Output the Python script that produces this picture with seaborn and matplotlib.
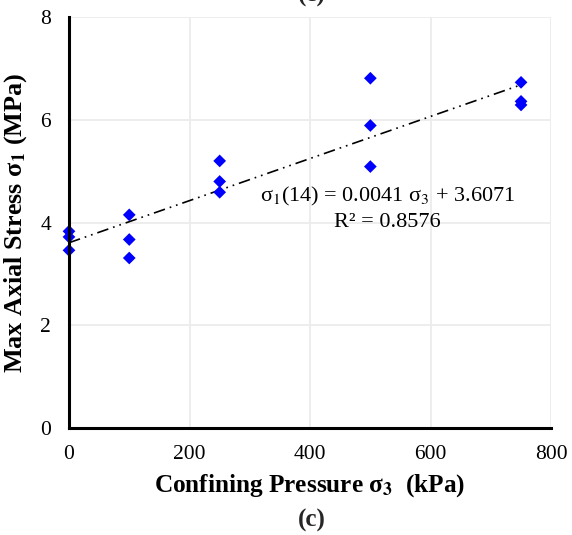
import numpy as np
import pandas as pd
import seaborn as sns
import matplotlib.pyplot as plt

# data
confining = [0, 0, 0, 100, 100, 100, 250, 250, 250, 500, 500, 500, 750, 750, 750]
max_stress = [3.83, 3.72, 3.46, 4.15, 3.67, 3.31, 5.20, 4.80, 4.59, 6.81, 5.89, 5.09, 6.73, 6.36, 6.29]
slope = 0.0041
intercept = 3.6071
r_squared = 0.8576
trend_x = [0, 750]
x_ticks = [0, 200, 400, 600, 800]
y_ticks = [0, 2, 4, 6, 8]

sns.set_theme(style="whitegrid")
plt.rcParams['font.family'] = ['Liberation Serif', 'DejaVu Serif']
plt.rcParams['mathtext.fontset'] = 'stix'

df = pd.DataFrame({'sigma3': confining, 'sigma1': max_stress})
trend = pd.DataFrame({'x': trend_x, 'y': [slope * v + intercept for v in trend_x]})

fig = plt.figure(figsize=(5.72, 5.35), dpi=100)
ax = fig.add_axes([0.1206, 0.2, 0.843, 0.768])

ax.plot(trend['x'], trend['y'], color='black', lw=1.2,
        linestyle=(0, (7, 3, 1, 3, 1, 3)), zorder=2)
sns.scatterplot(data=df, x='sigma3', y='sigma1', ax=ax, marker='D', s=42,
                color='#0000ff', edgecolor='none', zorder=3, clip_on=False)

ax.set_xlim(0, 800)
ax.set_ylim(0, 8)
ax.set_xticks(x_ticks)
ax.set_yticks(y_ticks)
ax.tick_params(axis='both', labelsize=15.5, length=0, colors='black')
ax.tick_params(axis='x', pad=12)
ax.tick_params(axis='y', pad=13)
ax.grid(True, color='#ececec', lw=1.3)
for side in ['top', 'right']:
    ax.spines[side].set_visible(False)
for side in ['left', 'bottom']:
    ax.spines[side].set_color('black')
    ax.spines[side].set_linewidth(2.2)
    ax.spines[side].set_zorder(4)

ax.set_xlabel(r'Confining Pressure σ$_\mathbf{3}$  (kPa)', fontsize=18.2,
              fontweight='bold', color='black', labelpad=6)
ax.set_ylabel(r'Max Axial Stress σ$_\mathbf{1}$ (MPa)', fontsize=18.8,
              fontweight='bold', color='black', labelpad=8)

ax.text(528, 4.50, r'σ$_1$(14) = %.4f σ$_3$ + %.4f' % (slope, intercept),
        fontsize=16, ha='center', va='center', color='black')
ax.text(528, 4.01, 'R² = %.4f' % r_squared, fontsize=16, ha='center',
        va='center', color='black')

fig.text(0.545, 0.028, '(c)', fontsize=18, fontweight='bold', ha='center', va='center')
fig.text(0.545, 1.008, '(c)', fontsize=18, fontweight='bold', ha='center', va='center')

fig.savefig('out.png', dpi=100)
